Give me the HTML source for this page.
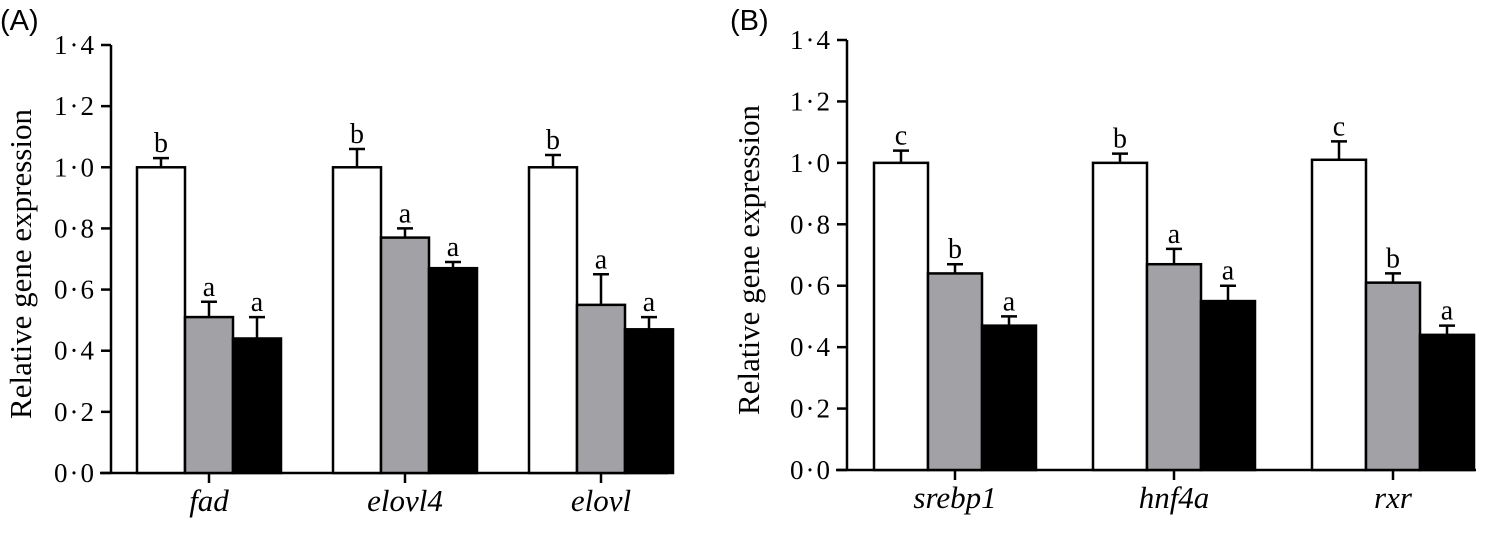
<!DOCTYPE html>
<html><head><meta charset="utf-8"><style>
html,body{margin:0;padding:0;background:#fff;}
svg{display:block;font-family:"Liberation Serif",serif;}
</style></head><body>
<svg id="chart" width="1504" height="551" viewBox="0 0 1504 551" xmlns="http://www.w3.org/2000/svg"></svg>
<script>
const catsA = ["fad","elovl4","elovl"];
const catsB = ["srebp1","hnf4a","rxr"];
const valsA = [[1.0,0.51,0.44],[1.0,0.77,0.67],[1.0,0.55,0.47]];
const errsA = [[0.03,0.05,0.07],[0.06,0.03,0.02],[0.04,0.10,0.04]];
const letA = [["b","a","a"],["b","a","a"],["b","a","a"]];
const valsB = [[1.0,0.64,0.47],[1.0,0.67,0.55],[1.01,0.61,0.44]];
const errsB = [[0.04,0.03,0.03],[0.03,0.05,0.05],[0.06,0.03,0.03]];
const letB = [["c","b","a"],["b","a","a"],["c","b","a"]];
const ticks = [0,0.2,0.4,0.6,0.8,1.0,1.2,1.4];
const tickLabels = ["0·0","0·2","0·4","0·6","0·8","1·0","1·2","1·4"];
const fills = ["#ffffff","#a2a2a6","#000000"];
const NS="http://www.w3.org/2000/svg";
const svg=document.getElementById('chart');
const SERIF='"Liberation Serif", serif';
function mk(tag,attrs,parent){const e=document.createElementNS(NS,tag);for(const k in attrs)e.setAttribute(k,attrs[k]);(parent||svg).appendChild(e);return e;}

function panel(cfg){
  const g=mk('g',{});
  
  
  const y=v=>cfg.y0-(v/1.4)*(cfg.y0-cfg.y14);
  const t=mk('text',{x:cfg.labX,y:30,'font-family':'"Liberation Sans", sans-serif','font-size':29},g);
  t.textContent=cfg.label;
  
  
  const ya=mk('line',{x1:cfg.ax,y1:cfg.y14,x2:cfg.ax,y2:cfg.y0+1,stroke:'#000','stroke-width':2.5},g);
  
  
  ticks.forEach((tv,i)=>{
    const tl=mk('line',{x1:cfg.ax-10,y1:y(tv),x2:cfg.ax,y2:y(tv),stroke:'#000','stroke-width':2.5},g);
    
    
    const tx=mk('text',{x:cfg.ax-15,y:y(tv)+9,'text-anchor':'end','font-size':27,'letter-spacing':2,'font-family':SERIF},g);
    tx.textContent=tickLabels[i];
    
    
  });
  const yl=mk('text',{x:0,y:0,'text-anchor':'middle','font-size':31,'font-family':SERIF,transform:`translate(${cfg.ylX},${(cfg.y0+cfg.y14)/2+5}) rotate(-90)`},g);
  yl.textContent='Relative gene expression';
  
  
  const xa=mk('line',{x1:cfg.ax-11,y1:cfg.y0,x2:cfg.xEnd,y2:cfg.y0,stroke:'#000','stroke-width':2.5},g);
  
  
  cfg.cats.forEach((c,ci)=>{
    const cx=cfg.c0+ci*cfg.sp;
    const xt=mk('line',{x1:cx,y1:cfg.y0,x2:cx,y2:cfg.y0+10,stroke:'#000','stroke-width':2.5},g);
    
    
    const lab=mk('text',{x:cx,y:cfg.y0+38,'text-anchor':'middle','font-size':31,'font-style':'italic','font-family':SERIF},g);
    lab.textContent=c;
    
    
    for(let s=0;s<3;s++){
      const v=cfg.vals[ci][s],e=cfg.errs[ci][s];
      const bx=cx-1.5*cfg.bw+s*cfg.bw, bc=bx+cfg.bw/2;
      const r=mk('rect',{x:bx,y:y(v),width:cfg.bw,height:cfg.y0-y(v),fill:fills[s],stroke:'#000','stroke-width':2.5},g);
      
      
      const el=mk('path',{d:`M${bc},${y(v)} V${y(v+e)} M${bc-8},${y(v+e)} H${bc+8}`,stroke:'#000','stroke-width':2.5,fill:'none'},g);
      
      
      const lt=mk('text',{x:bc,y:y(v+e)-6,'text-anchor':'middle','font-size':28,'font-family':SERIF},g);
      lt.textContent=cfg.lets[ci][s];
      
      
    }
  });
}
panel({id:'panel-a',label:'(A)',labX:0,ax:111,y0:473,y14:45,ylX:31,xEnd:668,c0:209,sp:196,bw:48,cats:catsA,vals:valsA,errs:errsA,lets:letA});
panel({id:'panel-b',label:'(B)',labX:730,ax:847,y0:470,y14:40,ylX:759,xEnd:1476,c0:955,sp:219,bw:54,cats:catsB,vals:valsB,errs:errsB,lets:letB});
</script>
</body></html>
